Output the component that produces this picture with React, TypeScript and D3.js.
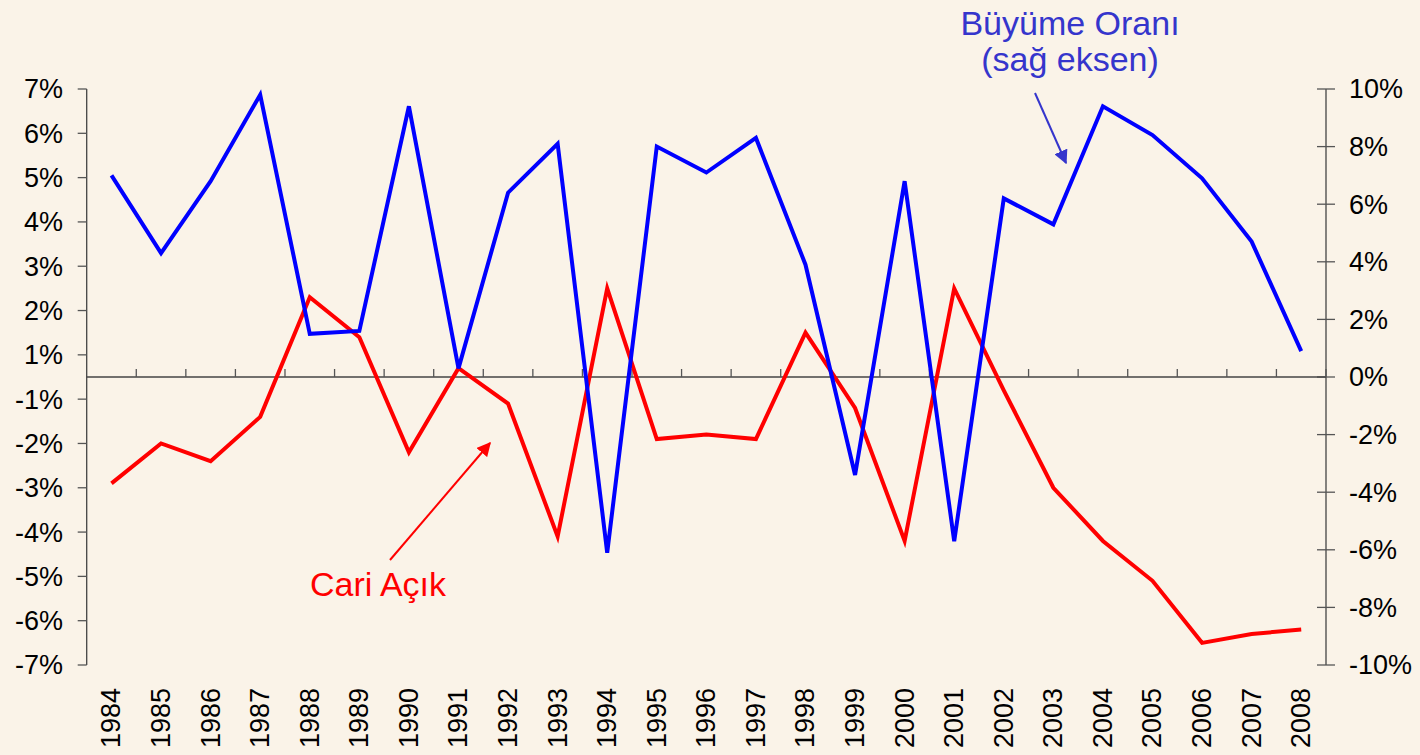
import * as d3 from "d3";

const years = d3.range(1984, 2009).map(String);

// Büyüme oranı (sağ eksen), %
const growth = [7.0, 4.3, 6.8, 9.8, 1.5, 1.6, 9.4, 0.3, 6.4, 8.1, -6.1, 8.0, 7.1, 8.3, 3.9, -3.4, 6.8, -5.7, 6.2, 5.3, 9.4, 8.4, 6.9, 4.7, 0.9];

// Cari açık / GSYH (sol eksen), %
const currentAccount = [-2.4, -1.5, -1.9, -0.9, 1.8, 0.9, -1.7, 0.2, -0.6, -3.6, 2.0, -1.4, -1.3, -1.4, 1.0, -0.7, -3.7, 2.0, -0.3, -2.5, -3.7, -4.6, -6.0, -5.8, -5.7];

// left axis runs -6.5..6.5, labels are rounded like Excel's "0%" format
const leftTicks = d3.range(-6.5, 6.6, 1);
const rightTicks = d3.range(-10, 11, 2);

const W = 1420;
const H = 755;
const left = 86.7;
const right = 1326;
const top = 89;
const bottom = 665;

const FONT = "'Liberation Sans', Arial, Helvetica, sans-serif";
const BLUE_TXT = "#3535CC";

export default function App() {
  const x = d3.scalePoint<string>().domain(years).range([left, right]).padding(0.5);
  const yL = d3.scaleLinear().domain([-6.5, 6.5]).range([bottom, top]);
  const yR = d3.scaleLinear().domain([-10, 10]).range([bottom, top]);
  const step = x.step();
  const zeroY = yL(0);

  const redLine = d3
    .line<number>()
    .x((_, i) => x(years[i])!)
    .y((d) => yL(d));
  const blueLine = d3
    .line<number>()
    .x((_, i) => x(years[i])!)
    .y((d) => yR(d));

  const fmtLeft = (v: number) => (v < 0 ? "-" : "") + Math.round(Math.abs(v)) + "%";

  return (
    <div style={{ position: "absolute", left: 0, top: 0 }}>
      <svg width={W} height={H} style={{ display: "block", fontFamily: FONT }}>
        <defs>
          <marker id="arrBlue" viewBox="0 0 10 10" refX="9" refY="5" markerWidth="7" markerHeight="7" orient="auto">
            <path d="M0,0 L10,5 L0,10 Z" fill={BLUE_TXT} />
          </marker>
          <marker id="arrRed" viewBox="0 0 10 10" refX="9" refY="5" markerWidth="7" markerHeight="7" orient="auto">
            <path d="M0,0 L10,5 L0,10 Z" fill="#FF0000" />
          </marker>
        </defs>
        <rect width={W} height={H} fill="#FAF3E8" />

        {/* left axis */}
        <line x1={left} x2={left} y1={top} y2={bottom} stroke="#444" strokeWidth={1.3} />
        {leftTicks.map((t) => (
          <g key={"l" + t}>
            <line x1={left - 9} x2={left} y1={yL(t)} y2={yL(t)} stroke="#555" strokeWidth={1.3} />
            <text x={63} y={yL(t)} dy="0.35em" textAnchor="end" fontSize={27} fill="#000">
              {fmtLeft(t)}
            </text>
          </g>
        ))}

        {/* right axis */}
        <line x1={right} x2={right} y1={top} y2={bottom} stroke="#444" strokeWidth={1.3} />
        {rightTicks.map((t) => (
          <g key={"r" + t}>
            <line x1={right - 9} x2={right + 9} y1={yR(t)} y2={yR(t)} stroke="#555" strokeWidth={1.3} />
            <text x={1349} y={yR(t)} dy="0.35em" textAnchor="start" fontSize={27} fill="#000">
              {t + "%"}
            </text>
          </g>
        ))}

        {/* category axis on zero line */}
        <line x1={left} x2={right} y1={zeroY} y2={zeroY} stroke="#444" strokeWidth={1.3} />
        {years.map((yr, i) => (
          <line
            key={"t" + yr}
            x1={left + step * (i + 1)}
            x2={left + step * (i + 1)}
            y1={zeroY}
            y2={zeroY - 8}
            stroke="#555"
            strokeWidth={1.3}
          />
        ))}
        {years.map((yr) => (
          <text
            key={"y" + yr}
            transform={`translate(${x(yr)! + 9},688) rotate(-90)`}
            textAnchor="end"
            fontSize={27}
            fill="#000"
          >
            {yr}
          </text>
        ))}

        <path d={redLine(currentAccount)!} fill="none" stroke="#FF0000" strokeWidth={4} />
        <path d={blueLine(growth)!} fill="none" stroke="#0000FF" strokeWidth={4} />

        {/* annotations */}
        <text x={1070} y={35} textAnchor="middle" fontSize={34} fill={BLUE_TXT}>
          Büyüme Oranı
        </text>
        <text x={1070} y={71} textAnchor="middle" fontSize={34} fill={BLUE_TXT}>
          (sağ eksen)
        </text>
        <line x1={1035} y1={93} x2={1066} y2={163} stroke={BLUE_TXT} strokeWidth={2} markerEnd="url(#arrBlue)" />

        <text x={378} y={596} textAnchor="middle" fontSize={34} fill="#FF0000">
          Cari Açık
        </text>
        <line x1={390} y1={560} x2={490} y2={443} stroke="#FF0000" strokeWidth={2} markerEnd="url(#arrRed)" />
      </svg>
    </div>
  );
}
